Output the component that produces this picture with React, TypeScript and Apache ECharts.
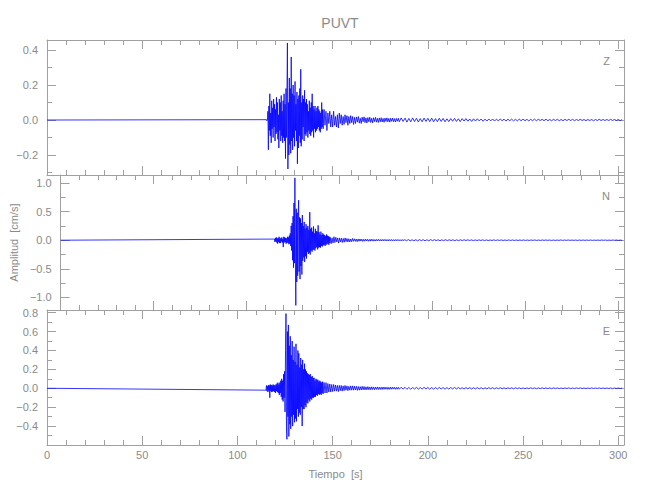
import React, { useEffect, useRef } from "react";
import * as echarts from "echarts";

// ---- time axis ----
const X_MAX = 303;
const X_MAJOR = [0, 50, 100, 150, 200, 250, 300];
const X_MINOR = [10, 20, 30, 40, 60, 70, 80, 90, 110, 120, 130, 140, 160, 170, 180, 190, 210, 220, 230, 240, 260, 270, 280, 290];

// sampling of the traces
const BURST_START = 115; // 0.25 s steps, 115.0 – 144.75 s
const BURST_STEP = 0.25;
const CODA_START = 145; // 0.5 s steps, 145.0 – 184.5 s
const CODA_STEP = 0.5;
const TAIL_START = 185; // 1 s steps, 185 – 302 s
const TAIL_STEP = 1;

// ---- Z component (cm/s) ----
const zBurst = [
  0.002, -0.003, 0.003, -0.002,
  0.05, -0.17, 0.08, -0.06,
  0.15, -0.09, 0.04, -0.13,
  0.11, -0.05, 0.07, -0.1,
  0.12, -0.04, 0.09, -0.12,
  0.06, -0.08, 0.13, -0.07,
  0.1, -0.11, 0.03, -0.16,
  0.12, -0.06, 0.1, -0.12,
  0.14, -0.09, 0.05, -0.13,
  0.11, -0.1, 0.15, -0.12,
  0.09, -0.22, 0.18, -0.1,
  0.16, 0.44, -0.28, 0.1,
  -0.2, 0.24, -0.14, 0.18,
  -0.19, 0.36, -0.12, 0.15,
  -0.17, 0.2, -0.1, 0.14,
  -0.15, 0.22, -0.06, 0.09,
  -0.12, 0.16, -0.25, 0.12,
  -0.16, 0.14, -0.09, 0.18,
  -0.13, 0.29, -0.15, 0.1,
  -0.11, 0.14, -0.04, 0.12,
  -0.12, 0.17, -0.08, 0.1,
  -0.09, 0.12, -0.07, 0.09,
  -0.1, 0.05, -0.06, 0.11,
  -0.08, 0.07, -0.09, 0.1,
  -0.07, 0.15, -0.06, 0.08,
  -0.1, 0.06, -0.05, 0.08,
  -0.07, 0.05, -0.06, 0.07,
  -0.05, 0.08, -0.04, 0.06,
  -0.06, 0.05, -0.07, 0.04,
  -0.05, 0.1, -0.04, 0.06,
];
const zCoda = [
  -0.05, 0.06, -0.03, 0.05, -0.06, 0.04, -0.02, 0.05, -0.04, 0.03,
  -0.04, 0.05, -0.03, 0.02, -0.04, 0.03, -0.045, 0.04, -0.02, 0.03,
  -0.03, 0.02, -0.025, 0.03, -0.015, 0.025, -0.03, 0.02, -0.02, 0.025,
  -0.015, 0.02, -0.025, 0.015, -0.02, 0.018, -0.012, 0.02, -0.018, 0.01,
  -0.02, 0.016, -0.01, 0.018, -0.015, 0.012, -0.017, 0.014, -0.01, 0.016,
  -0.014, 0.01, -0.016, 0.013, -0.009, 0.015, -0.012, 0.01, -0.014, 0.012,
  -0.01, 0.013, -0.011, 0.009, -0.013, 0.011, -0.008, 0.012, -0.01, 0.009,
  -0.012, 0.01, -0.008, 0.011, -0.01, 0.008, -0.011, 0.009, -0.007, 0.01,
];
const zTail = [
  -0.01, 0.012, -0.008, 0.011, -0.012, 0.009, -0.01, 0.012, -0.009, 0.01,
  -0.011, 0.008, -0.01, 0.011, -0.008, 0.01, -0.009, 0.011, -0.01, 0.008,
  -0.009, 0.01, -0.008, 0.009, -0.01, 0.007, -0.009, 0.008, -0.007, 0.009,
  -0.008, 0.007, -0.009, 0.008, -0.006, 0.008, -0.007, 0.006, -0.008, 0.007,
  -0.006, 0.007, -0.005, 0.006, -0.007, 0.005, -0.006, 0.006, -0.005, 0.006,
  -0.006, 0.005, -0.005, 0.006, -0.004, 0.005, -0.006, 0.005, -0.004, 0.005,
  -0.005, 0.004, -0.005, 0.005, -0.004, 0.005, -0.004, 0.004, -0.005, 0.004,
  -0.004, 0.005, -0.004, 0.004, -0.003, 0.004, -0.004, 0.005, -0.004, 0.003,
  -0.004, 0.004, -0.003, 0.004, -0.004, 0.003, -0.004, 0.004, -0.003, 0.004,
  -0.003, 0.004, -0.004, 0.003, -0.003, 0.004, -0.003, 0.003, -0.004, 0.003,
  -0.003, 0.003, -0.004, 0.003, -0.003, 0.004, -0.003, 0.003, -0.003, 0.003,
  -0.003, 0.004, -0.003, 0.003, -0.003, 0.003, -0.004, 0.003,
];

// ---- N component (cm/s) ----
const nBurst = [
  0.02, -0.03, 0.04, -0.02,
  0.05, -0.04, 0.03, -0.06,
  0.04, -0.03, 0.06, -0.05,
  0.03, -0.05, 0.04, -0.02,
  0.05, -0.04, 0.02, -0.12,
  0.06, -0.04, 0.05, -0.03,
  0.04, -0.06, 0.03, -0.05,
  0.06, -0.04, 0.05, -0.07,
  0.08, -0.06, 0.12, -0.1,
  0.25, -0.18, 0.3, -0.35,
  0.42, -0.48, 0.65, -0.4,
  1.09, -0.3, -1.14, 0.55,
  -0.73, 0.48, -0.62, 0.35,
  0.7, -0.55, 0.4, -0.68,
  0.38, -0.45, 0.3, -0.6,
  0.44, -0.36, 0.25, -0.3,
  0.32, -0.38, 0.2, -0.28,
  0.28, -0.32, 0.22, -0.2,
  0.25, -0.24, 0.18, -0.22,
  0.49, -0.25, 0.2, -0.18,
  0.22, -0.2, 0.15, -0.17,
  0.24, -0.16, 0.12, -0.18,
  0.2, -0.14, 0.16, -0.12,
  0.15, -0.16, 0.26, -0.13,
  0.14, -0.12, 0.1, -0.13,
  0.15, -0.1, 0.09, -0.11,
  0.12, -0.09, 0.1, -0.08,
  0.09, -0.1, 0.07, -0.08,
  0.1, -0.07, 0.08, -0.06,
  0.07, -0.08, 0.06, -0.05,
];
const nCoda = [
  0.05, -0.06, 0.04, -0.05, 0.06, -0.04, 0.05, -0.03, 0.04, -0.05,
  0.04, -0.03, 0.035, -0.04, 0.03, -0.035, 0.04, -0.025, 0.03, -0.03,
  0.025, -0.03, 0.02, -0.025, 0.03, -0.02, 0.025, -0.02, 0.02, -0.025,
  0.02, -0.018, 0.022, -0.015, 0.018, -0.02, 0.015, -0.018, 0.02, -0.014,
  0.016, -0.018, 0.014, -0.016, 0.018, -0.013, 0.015, -0.016, 0.012, -0.015,
  0.014, -0.012, 0.015, -0.013, 0.011, -0.014, 0.013, -0.012, 0.014, -0.011,
  0.012, -0.013, 0.011, -0.012, 0.013, -0.01, 0.012, -0.011, 0.01, -0.012,
  0.011, -0.01, 0.012, -0.009, 0.01, -0.011, 0.009, -0.01, 0.011, -0.009,
];
const nTail = [
  0.01, -0.009, 0.011, -0.01, 0.008, -0.01, 0.009, -0.011, 0.01, -0.008,
  0.009, -0.01, 0.008, -0.009, 0.01, -0.008, 0.009, -0.007, 0.008, -0.009,
  0.007, -0.008, 0.009, -0.007, 0.008, -0.006, 0.007, -0.008, 0.006, -0.007,
  0.007, -0.006, 0.008, -0.006, 0.007, -0.005, 0.006, -0.007, 0.005, -0.006,
  0.006, -0.005, 0.006, -0.006, 0.005, -0.006, 0.004, -0.005, 0.006, -0.005,
  0.005, -0.004, 0.005, -0.005, 0.004, -0.005, 0.005, -0.004, 0.004, -0.005,
  0.004, -0.005, 0.004, -0.004, 0.005, -0.004, 0.003, -0.004, 0.004, -0.003,
  0.004, -0.004, 0.003, -0.004, 0.004, -0.003, 0.004, -0.003, 0.003, -0.004,
  0.003, -0.004, 0.003, -0.003, 0.004, -0.003, 0.003, -0.003, 0.004, -0.003,
  0.003, -0.003, 0.003, -0.004, 0.003, -0.003, 0.003, -0.003, 0.003, -0.003,
  0.003, -0.003, 0.002, -0.003, 0.003, -0.003, 0.003, -0.002, 0.003, -0.003,
  0.002, -0.003, 0.003, -0.002, 0.003, -0.003, 0.002, -0.003,
];

// ---- E component (cm/s) ----
const eBurst = [
  -0.02, 0.03, -0.03, 0.02,
  -0.04, 0.035, -0.025, 0.03,
  -0.1, 0.04, -0.03, 0.035,
  -0.04, 0.03, -0.035, 0.04,
  -0.03, 0.035, -0.04, 0.03,
  -0.05, 0.04, -0.03, 0.05,
  -0.04, 0.06, -0.05, 0.04,
  -0.07, 0.06, -0.05, 0.08,
  -0.09, 0.1, -0.12, 0.08,
  -0.14, 0.15, -0.1, 0.18,
  -0.25, 0.4, 0.79, -0.4,
  -0.54, 0.6, -0.3, 0.67,
  -0.51, 0.45, -0.38, 0.55,
  -0.43, 0.35, -0.3, 0.5,
  -0.4, 0.3, -0.28, 0.44,
  -0.36, 0.28, -0.32, 0.47,
  -0.35, 0.25, -0.22, 0.4,
  -0.3, 0.37, -0.26, 0.22,
  -0.28, 0.32, -0.2, 0.25,
  -0.4, 0.3, -0.22, 0.2,
  -0.22, 0.26, -0.18, 0.2,
  -0.2, 0.18, -0.15, 0.16,
  -0.16, 0.15, -0.12, 0.14,
  -0.14, 0.15, -0.11, 0.12,
  -0.12, 0.13, -0.1, 0.11,
  -0.1, 0.11, -0.09, 0.08,
  -0.09, 0.1, -0.07, 0.09,
  -0.08, 0.09, -0.06, 0.07,
  -0.07, 0.08, -0.06, 0.07,
  -0.07, 0.06, -0.05, 0.07,
];
const eCoda = [
  -0.06, 0.06, -0.05, 0.06, -0.05, 0.05, -0.04, 0.045, -0.04, 0.04,
  -0.035, 0.04, -0.03, 0.035, -0.03, 0.03, -0.035, 0.03, -0.025, 0.03,
  -0.03, 0.025, -0.025, 0.03, -0.02, 0.025, -0.025, 0.02, -0.02, 0.025,
  -0.02, 0.025, -0.02, 0.022, -0.018, 0.02, -0.022, 0.018, -0.02, 0.017,
  -0.018, 0.02, -0.016, 0.018, -0.017, 0.015, -0.016, 0.017, -0.015, 0.014,
  -0.016, 0.015, -0.013, 0.014, -0.015, 0.013, -0.012, 0.014, -0.013, 0.012,
  -0.013, 0.011, -0.012, 0.013, -0.011, 0.012, -0.01, 0.011, -0.012, 0.01,
  -0.011, 0.012, -0.01, 0.011, -0.009, 0.01, -0.011, 0.009, -0.01, 0.011,
];
const eTail = [
  -0.01, 0.011, -0.009, 0.01, -0.011, 0.009, -0.01, 0.009, -0.008, 0.01,
  -0.009, 0.008, -0.009, 0.01, -0.008, 0.009, -0.01, 0.008, -0.009, 0.008,
  -0.008, 0.009, -0.007, 0.008, -0.009, 0.007, -0.008, 0.008, -0.007, 0.009,
  -0.007, 0.008, -0.007, 0.006, -0.008, 0.007, -0.006, 0.007, -0.007, 0.006,
  -0.006, 0.007, -0.006, 0.006, -0.007, 0.005, -0.006, 0.006, -0.005, 0.006,
  -0.006, 0.005, -0.005, 0.006, -0.005, 0.005, -0.006, 0.005, -0.004, 0.005,
  -0.005, 0.005, -0.004, 0.005, -0.005, 0.004, -0.005, 0.004, -0.004, 0.005,
  -0.004, 0.004, -0.005, 0.004, -0.004, 0.005, -0.004, 0.004, -0.004, 0.004,
  -0.004, 0.004, -0.003, 0.004, -0.004, 0.003, -0.004, 0.004, -0.003, 0.004,
  -0.004, 0.003, -0.004, 0.004, -0.003, 0.004, -0.003, 0.003, -0.004, 0.003,
  -0.003, 0.004, -0.003, 0.003, -0.003, 0.004, -0.003, 0.003, -0.003, 0.003,
  -0.003, 0.003, -0.004, 0.003, -0.003, 0.003, -0.003, 0.003,
];

// ---- amplitude axes ----
const Z_RANGE = [-0.314, 0.457];
const Z_MAJOR = [-0.2, 0.0, 0.2, 0.4];
const Z_MINOR = [-0.3, -0.1, 0.1, 0.3];
const N_RANGE = [-1.22, 1.14];
const N_MAJOR = [-1.0, -0.5, 0.0, 0.5, 1.0];
const N_MINOR = [-0.75, -0.25, 0.25, 0.75];
const E_RANGE = [-0.6, 0.828];
const E_MAJOR = [-0.4, -0.2, 0.0, 0.2, 0.4, 0.6, 0.8];
const E_MINOR = [-0.5, -0.3, -0.1, 0.1, 0.3, 0.5, 0.7];

const COMPONENTS = ["Z", "N", "E"];
const TITLE = "PUVT";
const X_NAME = "Tiempo  [s]";
const Y_NAME = "Amplitud  [cm/s]";

const AXIS_COLOR = "#a0a0a0";
const TEXT_COLOR = "#8a8a8a";
const TRACE_COLOR = "#0000ff";
const FONT = "'Liberation Sans', Arial, sans-serif";

function buildTrace(burst: number[], coda: number[], tail: number[]) {
  const pts: number[][] = [[0, 0]];
  burst.forEach((v, i) => pts.push([BURST_START + BURST_STEP * i, v]));
  coda.forEach((v, i) => pts.push([CODA_START + CODA_STEP * i, v]));
  tail.forEach((v, i) => pts.push([TAIL_START + TAIL_STEP * i, v]));
  return pts;
}

const fmtY = (v: number) => {
  const s = Math.abs(v) < 1e-9 ? "0.0" : Number(v).toFixed(1);
  return s.replace("-", "\u2212");
};

export default function App() {
  const ref = useRef<HTMLDivElement>(null);

  useEffect(() => {
    if (!ref.current) return;
    const chart = echarts.init(ref.current, undefined, { renderer: "svg" });

    const panels = [
      { top: 40, range: Z_RANGE, major: Z_MAJOR, minor: Z_MINOR, data: buildTrace(zBurst, zCoda, zTail) },
      { top: 175, range: N_RANGE, major: N_MAJOR, minor: N_MINOR, data: buildTrace(nBurst, nCoda, nTail) },
      { top: 310, range: E_RANGE, major: E_MAJOR, minor: E_MINOR, data: buildTrace(eBurst, eCoda, eTail) },
    ];
    const H = 135;

    const line = { color: AXIS_COLOR, width: 1 };
    const textStyle = { color: TEXT_COLOR, fontSize: 11, fontFamily: FONT };

    const grids: any[] = [];
    const xAxes: any[] = [];
    const yAxes: any[] = [];
    const series: any[] = [];
    const graphics: any[] = [];

    panels.forEach((p, g) => {
      grids.push({ left: 47, right: 26, top: p.top, height: H });
      const xb = {
        type: "value",
        gridIndex: g,
        min: 0,
        max: X_MAX,
        splitLine: { show: false },
        silent: true,
      };
      const isBottom = g === 2;
      xAxes.push({
        ...xb,
        position: "bottom",
        axisLine: { show: true, onZero: false, lineStyle: line },
        axisTick: { show: true, inside: true, length: 9, customValues: X_MAJOR, lineStyle: line },
        axisLabel: { show: isBottom, customValues: X_MAJOR, margin: 4, ...textStyle },
        name: isBottom ? X_NAME : "",
        nameLocation: "middle",
        nameGap: 23,
        nameTextStyle: textStyle,
      });
      xAxes.push({
        ...xb,
        position: "bottom",
        axisLine: { show: false, onZero: false },
        axisTick: { show: true, inside: true, length: 5, customValues: X_MINOR, lineStyle: line },
        axisLabel: { show: false },
      });
      xAxes.push({
        ...xb,
        position: "top",
        axisLine: { show: true, onZero: false, lineStyle: line },
        axisTick: { show: true, inside: true, length: 9, customValues: X_MAJOR, lineStyle: line },
        axisLabel: { show: false },
      });
      xAxes.push({
        ...xb,
        position: "top",
        axisLine: { show: false, onZero: false },
        axisTick: { show: true, inside: true, length: 5, customValues: X_MINOR, lineStyle: line },
        axisLabel: { show: false },
      });

      const yb = {
        type: "value",
        gridIndex: g,
        min: p.range[0],
        max: p.range[1],
        splitLine: { show: false },
        silent: true,
      };
      yAxes.push({
        ...yb,
        position: "left",
        axisLine: { show: true, onZero: false, lineStyle: line },
        axisTick: { show: true, inside: true, length: 9, customValues: p.major, lineStyle: line },
        axisLabel: { show: true, customValues: p.major, margin: 9, formatter: fmtY, ...textStyle },
        name: g === 1 ? Y_NAME : "",
        nameLocation: "middle",
        nameGap: 30,
        nameRotate: 90,
        nameTextStyle: textStyle,
      });
      yAxes.push({
        ...yb,
        position: "left",
        axisLine: { show: false, onZero: false },
        axisTick: { show: true, inside: true, length: 5, customValues: p.minor, lineStyle: line },
        axisLabel: { show: false },
      });
      yAxes.push({
        ...yb,
        position: "right",
        axisLine: { show: true, onZero: false, lineStyle: line },
        axisTick: { show: true, inside: true, length: 9, customValues: p.major, lineStyle: line },
        axisLabel: { show: false },
      });
      yAxes.push({
        ...yb,
        position: "right",
        axisLine: { show: false, onZero: false },
        axisTick: { show: true, inside: true, length: 5, customValues: p.minor, lineStyle: line },
        axisLabel: { show: false },
      });

      series.push({
        type: "line",
        xAxisIndex: g * 4,
        yAxisIndex: g * 4,
        data: p.data,
        showSymbol: false,
        symbol: "none",
        silent: true,
        lineStyle: { color: TRACE_COLOR, width: 0.8 },
        itemStyle: { color: TRACE_COLOR },
      });

      graphics.push({
        type: "text",
        right: 40,
        top: p.top + 15,
        style: { text: COMPONENTS[g], fill: TEXT_COLOR, fontSize: 11, fontFamily: FONT },
      });
    });

    chart.setOption({
      animation: false,
      backgroundColor: "#ffffff",
      title: {
        text: TITLE,
        left: 335,
        textAlign: "center",
        top: 11,
        textStyle: { color: TEXT_COLOR, fontSize: 14, fontWeight: "normal", fontFamily: FONT },
      },
      grid: grids,
      xAxis: xAxes,
      yAxis: yAxes,
      series,
      graphic: graphics,
    });

    return () => chart.dispose();
  }, []);

  return (
    <div
      ref={ref}
      style={{ position: "fixed", left: 0, top: 0, width: 650, height: 500, background: "#fff" }}
    />
  );
}
